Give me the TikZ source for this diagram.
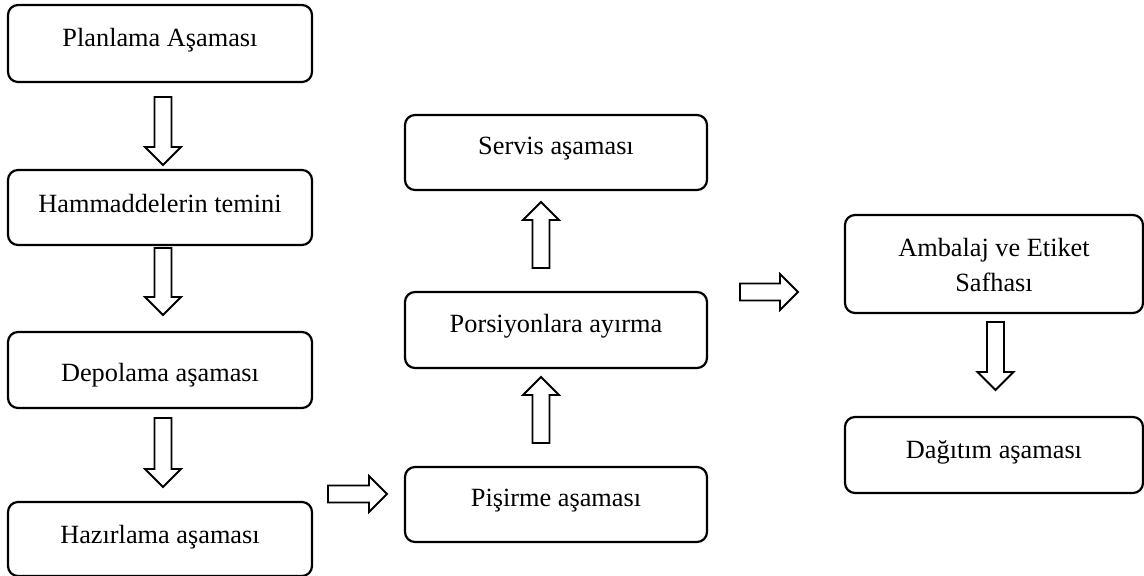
\documentclass[tikz,border=0pt]{standalone}
\usepackage{fontspec}
\setmainfont{Liberation Serif}
\usetikzlibrary{calc}
\begin{document}
\begin{tikzpicture}[x=1pt,y=-1pt,
  stage/.style={draw, line width=2.2pt, rounded corners=10pt, inner sep=0pt, outer sep=0pt,
    minimum width=302pt, minimum height=76pt},
  lbl/.style={inner sep=0pt, anchor=base, align=center, font=\fontsize{26.3}{35}\selectfont},
  arrowline/.style={draw, line width=1.8pt, line join=miter, fill=white},
  pics/barrow/.style={code={
    \path[arrowline] (0,-8.5) -- ({#1-18},-8.5) -- ({#1-18},-18) -- (#1,0)
      -- ({#1-18},18) -- ({#1-18},8.5) -- (0,8.5) -- cycle;}}
]
\useasboundingbox (0,0) rectangle (1144,576);

% left column
\node[stage, minimum width=304pt, minimum height=77pt] (plan) at (160,43.5) {};
\node[stage, minimum width=304pt, minimum height=75pt] (ham) at (160,207.5) {};
\node[stage, minimum width=304pt, minimum height=76pt] (dep) at (160,370) {};
\node[stage, minimum width=304pt, minimum height=74pt] (haz) at (160,539) {};
% middle column
\node[stage, minimum height=75pt] (serv) at (556,152.5) {};
\node[stage, minimum height=76pt] (por) at (556,330) {};
\node[stage, minimum height=75pt] (pis) at (556,504.5) {};
% right column
\node[stage, minimum width=298pt, minimum height=98pt] (amb) at (994,264) {};
\node[stage, minimum width=298pt, minimum height=76pt] (dag) at (994,455) {};

% texts
\node[lbl] (planT) at ($(plan.north)+(0,41)$) {Planlama Aşaması};
\node[lbl] (hamT) at ($(ham.north)+(0,42)$) {Hammaddelerin temini};
\node[lbl] (depT) at ($(dep.north)+(0,49)$) {Depolama aşaması};
\node[lbl] (hazT) at ($(haz.north)+(0,41)$) {Hazırlama aşaması};
\node[lbl] (servT) at ($(serv.north)+(0,39)$) {Servis aşaması};
\node[lbl] (porT) at ($(por.north)+(0,40)$) {Porsiyonlara ayırma};
\node[lbl] (pisT) at ($(pis.north)+(0,39)$) {Pişirme aşaması};
\node[lbl] (ambT) at ($(amb.north)+(0,76)$) {Ambalaj ve Etiket\\Safhası};
\node[lbl] (dagT) at ($(dag.north)+(0,41)$) {Dağıtım aşaması};

% block arrows
\pic[rotate=-90] at ($(plan.south)+(3,15)$) {barrow=68};
\pic[rotate=-90] at ($(ham.south)+(3,3)$) {barrow=67};
\pic[rotate=-90] at ($(dep.south)+(3,10)$) {barrow=69};
\pic at ($(haz.north east)+(16,-8)$) {barrow=59};
\pic[rotate=90] at ($(pis.north)+(-15,-24)$) {barrow=66};
\pic[rotate=90] at ($(por.north)+(-15,-24)$) {barrow=66};
\pic at ($(por.north east)+(33,0)$) {barrow=58};
\pic[rotate=-90] at ($(amb.south)+(1.5,9)$) {barrow=68};
\end{tikzpicture}
\end{document}
